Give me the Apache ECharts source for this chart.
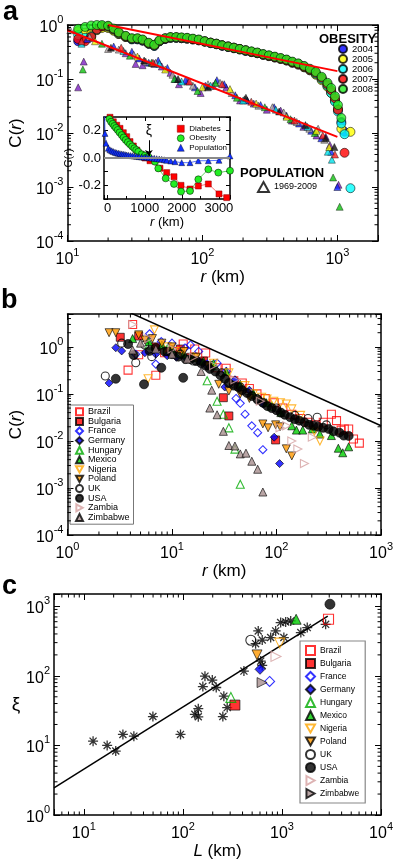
<!DOCTYPE html>
<html><head><meta charset="utf-8">
<script src="https://cdn.jsdelivr.net/npm/echarts@6/dist/echarts.min.js"></script>
<style>html,body{margin:0;padding:0;background:#fff}#c{width:396px;height:862px}</style>
</head><body><div id="c"></div>
<script>
// ---------------- Panel a : obesity (years) ----------------
const obesityYears = ['2004','2005','2006','2007','2008'];
const obesityR = [12,13.5,15,16.5,18,20,22,24,27,30,33,36,40,44,48,53,58,64,70,77,85,94,104,115,127,140,155,171,189,209,231,255,282,311,344,380,420,464,513,567,626,692,765,845,900,960,1010,1070,1130,1190,1250];
const obesity2004 = [0.5,0.55,0.7,0.85,0.92,0.9,0.8,0.68,0.6,0.54,0.54,0.51,0.45,0.41,0.5,0.55,0.58,0.58,0.57,0.56,0.54,0.52,0.49,0.46,0.44,0.41,0.39,0.37,0.35,0.33,0.315,0.3,0.28,0.265,0.25,0.235,0.22,0.2,0.185,0.165,0.145,0.125,0.1,0.075,0.058,0.04,0.027,0.016,0.0105,null,null];
const obesity2005 = [0.77,0.72,0.68,0.8,0.88,0.88,0.78,0.68,0.6,0.55,0.55,0.52,0.45,0.42,0.5,0.56,0.58,0.58,0.57,0.56,0.54,0.52,0.49,0.47,0.44,0.42,0.395,0.375,0.355,0.335,0.315,0.3,0.28,0.265,0.25,0.235,0.22,0.2,0.185,0.165,0.145,0.12,0.095,0.072,0.055,0.04,0.028,0.012,null,null,0.0105];
const obesity2006 = [0.65,0.58,0.62,0.82,0.95,0.93,0.82,0.7,0.61,0.55,0.55,0.52,0.45,0.41,0.5,0.56,0.58,0.58,0.57,0.56,0.55,0.53,0.5,0.47,0.45,0.42,0.4,0.38,0.36,0.34,0.32,0.305,0.285,0.27,0.255,0.24,0.225,0.205,0.19,0.17,0.15,0.125,0.1,0.075,0.055,0.038,0.025,0.015,0.0095,null,0.00095];
const obesity2007 = [0.55,0.5,0.6,0.83,0.95,0.95,0.84,0.72,0.62,0.56,0.56,0.53,0.46,0.42,0.51,0.56,0.59,0.59,0.58,0.57,0.55,0.53,0.5,0.47,0.45,0.42,0.4,0.38,0.36,0.34,0.32,0.305,0.285,0.27,0.255,0.24,0.225,0.205,0.19,0.17,0.15,0.13,0.105,0.08,0.062,0.044,0.027,null,0.0043,null,null];
const obesity2008 = [0.85,0.92,0.98,1.0,1.0,0.97,0.86,0.73,0.63,0.57,0.57,0.54,0.47,0.43,0.52,0.57,0.6,0.6,0.59,0.58,0.56,0.54,0.5,0.47,0.45,0.42,0.4,0.38,0.36,0.34,0.325,0.31,0.29,0.275,0.26,0.245,0.23,0.21,0.195,0.175,0.155,0.135,0.11,0.085,0.068,0.048,0.033,0.019,null,null,null];
const obesityValues = [obesity2004, obesity2005, obesity2006, obesity2007, obesity2008];

// ---------------- Panel a : population triangles (several years) ----------------
const popPurple = [[12,0.07],[13.2,0.21],[27,0.3],[32,0.19],[36,0.18],[44,0.19],[50,0.17],[58,0.13],[67,0.08],[78,0.09],[97,0.055],[120,0.075],[150,0.07],[190,0.04],[240,0.035],[300,0.027],[380,0.026],[460,0.017],[560,0.013],[700,0.009],[820,0.0085],[880,0.006],[1020,0.0011]];
const popBlue = [[14,0.55],[22,0.4],[30,0.32],[34,0.24],[40,0.2],[47,0.22],[55,0.16],[63,0.1],[75,0.095],[88,0.07],[105,0.075],[128,0.095],[145,0.08],[175,0.05],[215,0.04],[270,0.033],[340,0.03],[420,0.021],[520,0.015],[640,0.011],[760,0.008],[900,0.0045],[1000,0.001]];
const popGray = [[10.5,0.8],[14.6,0.6],[20,0.36],[24,0.35],[31,0.28],[38,0.21],[45,0.2],[60,0.12],[85,0.075],[110,0.08],[135,0.085],[165,0.055],[205,0.042],[260,0.032],[330,0.03],[400,0.024],[500,0.016],[620,0.012],[720,0.012],[800,0.0075]];
const popGreen = [[13,0.15],[18,0.45],[29,0.27],[42,0.2],[62,0.1],[92,0.06],[125,0.085],[180,0.045],[290,0.03],[450,0.018],[680,0.01],[930,0.0015],[1040,0.00043]];
const popCyan = [[12.7,0.45],[26,0.33],[48,0.19],[70,0.09],[115,0.075],[200,0.04],[350,0.027],[600,0.013],[850,0.0045],[910,0.0032]];
const popYellow = [[16,0.5],[33,0.26],[53,0.15],[100,0.07],[160,0.065],[250,0.035],[420,0.02],[700,0.011],[870,0.0055]];
const popRed = [[12.7,0.5],[25,0.38],[43,0.2],[80,0.09],[140,0.08],[230,0.038],[480,0.017],[780,0.009],[960,0.004]];
const popBlack = [[21,0.38],[37,0.22],[66,0.1],[110,0.07],[210,0.045],[370,0.025],[580,0.014],[820,0.008],[950,0.0055]];
const populationGroups = [popPurple, popBlue, popGray, popGreen, popCyan, popYellow, popRed, popBlack];

// power-law fits (red lines)
const fitObesity = [[20,1.0],[1000,0.14]];
const fitPopulation = [[10,0.8],[1000,0.0085]];

// ---------------- Panel a inset ----------------
const insetDiabetes = [[20,0.33],[62,0.298],[151,0.265],[243,0.24],[332,0.217],[421,0.185],[513,0.156],[602,0.12],[691,0.088],[783,0.058],[899,0.027],[1006,0.0],[1141,-0.02],[1411,-0.075],[1592,-0.107],[1789,-0.137],[1978,-0.2],[2221,-0.227],[2445,-0.205],[2715,-0.19],[3003,-0.263],[3211,-0.29]];
const insetObesity = [[0,0.31],[45,0.285],[89,0.265],[135,0.25],[178,0.234],[225,0.22],[270,0.205],[320,0.187],[378,0.168],[430,0.15],[486,0.132],[545,0.116],[602,0.1],[660,0.085],[718,0.071],[770,0.058],[826,0.046],[917,0.027],[1006,0.018],[1096,0.01],[1276,-0.027],[1365,-0.076],[1565,-0.149],[1789,-0.19],[1978,-0.246],[2221,-0.241],[2445,-0.156],[2715,-0.083],[2984,-0.107],[3300,-0.093]];
const insetPopulation = [[-95,0.5],[-73,0.18],[-46,0.108],[16,0.071],[60,0.06],[108,0.053],[150,0.047],[197,0.042],[240,0.038],[286,0.035],[330,0.032],[378,0.03],[420,0.027],[467,0.025],[510,0.022],[556,0.02],[610,0.018],[664,0.017],[720,0.014],[783,0.012],[850,0.01],[917,0.007],[985,0.006],[1052,0.005],[1120,0.002],[1187,0],[1255,-0.002],[1322,-0.005],[1390,-0.007],[1457,-0.01],[1525,-0.013],[1592,-0.017],[1700,-0.022],[1816,-0.027],[1997,-0.034],[2221,-0.034],[2445,-0.02],[2715,-0.02],[3003,-0.017],[3300,0.015]];
const xiArrow = [[1110,0.13],[1110,0.015]];

// ---------------- Panel b : C(r) by country ----------------
const countries = ['Brazil','Bulgaria','France','Germany','Hungary','Mexico','Nigeria','Poland','UK','USA','Zambia','Zimbabwe'];
const bBrazil = [[3.8,0.32],[4.2,3.0],[4.8,0.68],[7,0.25],[8.5,0.75],[10,0.8],[12.8,1.15],[16.5,0.9],[21,0.74],[27,0.36],[33,0.35],[39,0.19],[47,0.17],[55,0.13],[65,0.1],[78,0.08],[95,0.065],[115,0.05],[140,0.037],[170,0.03],[200,0.025],[240,0.022],[280,0.025],[335,0.037],[375,0.027],[415,0.017],[445,0.018],[490,0.018],[545,0.011],[620,0.009]];
const bBulgaria = [[3.2,1.6],[4.8,1.7],[7,1.0],[9,0.8],[12,0.9],[15,0.6],[20,0.5],[31,0.083],[35,0.034],[98,0.0105]];
const bFrance = [[4.5,0.7],[6.1,1.9],[7,0.43],[7.9,1.3],[10,1.2],[13.3,0.95],[15,1.1],[18,0.8],[21.7,0.43],[27,0.45],[33,0.3],[41,0.08],[45,0.063],[50,0.037],[58,0.021],[66,0.015],[74,0.0065]];
const bGermany = [[2.5,0.17],[2.9,0.96],[3.3,0.82],[5.5,0.75],[7,0.7],[9,0.65],[11,0.6],[14,0.55],[18,0.5],[24,0.38],[32,0.14],[40,0.2],[55,0.12],[75,0.06],[95,0.012],[107,0.0033]];
const bHungary = [[6,1.1],[9,0.9],[12,0.75],[16,0.6],[21.7,0.19],[24,0.4],[27,0.07],[31,0.037],[35,0.019],[40,0.0067],[45,0.0012],[60,0.1],[90,0.055]];
const bMexico = [[4.2,1.5],[6,1.3],[8,1.1],[10,0.9],[13,0.7],[16,0.6],[20,0.5],[25,0.45],[33,0.3],[45,0.16],[60,0.1],[80,0.065],[110,0.04],[140,0.021],[155,0.017],[178,0.017],[220,0.018],[260,0.014],[335,0.013],[390,0.007],[430,0.0056],[490,0.0075]];
const bNigeria = [[5.9,0.21],[6.8,2.3],[9,1.0],[12,0.8],[17,0.6],[25,0.45],[35,0.28],[50,0.15],[60,0.1],[72,0.085],[81,0.078],[94,0.07],[109,0.065],[124,0.061],[140,0.048],[170,0.035],[230,0.016],[260,0.01]];
const bPoland = [[2.5,2.0],[2.9,2.0],[4.8,1.8],[5.5,1.4],[6.5,1.5],[8,1.2],[10,1.0],[13,0.8],[17,0.6],[22,0.4],[28,0.16],[35,0.115],[45,0.1],[55,0.08],[74,0.023],[83,0.019],[98,0.022],[108,0.02],[124,0.0068],[140,0.0048]];
const bUK = [[2.3,0.24],[3.3,1.2],[4.5,0.46],[5.5,1.1],[6.4,0.62],[9,0.8],[12,0.7],[16,0.5],[22,0.4],[30,0.28],[45,0.14],[65,0.08],[100,0.05],[150,0.035],[200,0.03],[245,0.032],[300,0.022]];
const bUSA = [[2.9,0.21],[3.8,1.15],[4.3,0.67],[5.4,0.16],[6.1,0.82],[7,0.95],[7.9,0.36],[8.5,0.8],[10,0.7],[11.5,0.62],[12.8,0.22],[13.5,0.55],[15,0.55],[17,0.5],[19,0.45],[21,0.4],[23,0.34],[26,0.3],[29,0.25],[32,0.21],[35,0.17],[39,0.15],[43,0.14],[47,0.12],[52,0.105],[58,0.09],[66,0.075],[74,0.065],[82,0.055],[90,0.05],[100,0.045],[110,0.04],[120,0.036],[135,0.032],[150,0.029],[165,0.027],[185,0.025],[205,0.022],[225,0.021],[250,0.02],[280,0.019],[315,0.018],[350,0.016],[400,0.015],[440,0.013],[490,0.0128]];
const bZambia = [[4.2,3.0],[6,1.5],[10,0.9],[16,0.6],[25,0.4],[40,0.2],[70,0.07],[108,0.019],[125,0.021],[140,0.01],[160,0.0067],[185,0.0033],[220,0.012]];
const bZimbabwe = [[4.2,0.86],[5,1.2],[7,0.9],[10,0.7],[14,0.55],[19,0.3],[23,0.05],[24,0.12],[27,0.036],[31,0.016],[35,0.008],[40,0.0078],[45,0.0053],[51,0.0055],[58,0.0037],[66,0.0025],[74,0.00082]];
const panelBData = [bBrazil,bBulgaria,bFrance,bGermany,bHungary,bMexico,bNigeria,bPoland,bUK,bUSA,bZambia,bZimbabwe];
const panelBLine = [[4,5.3],[1000,0.021]];

// ---------------- Panel c : xi vs L ----------------
const cAsterisk = [[12.4,11.5],[17.2,10],[21,8.3],[24.8,14.4],[32,13.6],[49.8,26],[94.6,14.4],[132,28],[143,25.8],[143,33.7],[253,26],[280,35],[159,70],[167,99],[198,87],[217,68],[259,51],[413,117],[542,290],[576,442],[632,327],[769,355],[864,442],[970,582],[1090,595],[1225,615],[1045,355],[1550,418],[1800,494],[2760,550],[610,163],[632,141]];
const cCountries = [[2950,650],[335,38],[750,83],[600,124],[305,49],[1390,650],[950,295],[560,200],[485,325],[3050,1070],[870,190],[630,80]];
const panelCLine = [[5,2.45],[2900,720]];

// ---------------- styles ----------------
const FF = '"Liberation Sans", Arial, Helvetica, sans-serif';
const obesityColors = ['#0000ff','#ffff00','#00ffff','#ff0000','#22ee22'];
const popColors = ['#7d1fc0','#1020ff','#b0a4a4','#10c010','#00e0e8','#f0f000','#ff2020','#111111'];
const TRI_DOWN = 'path://M0,0L10,0L5,9Z';
const TRI_RIGHT = 'path://M0,0L9,5L0,10Z';
const ASTER = 'path://M-1.3,-10L1.3,-10L1.3,10L-1.3,10Z M-10,-1.3L10,-1.3L10,1.3L-10,1.3Z M-7.99,-6.15L-6.15,-7.99L7.99,6.15L6.15,7.99Z M-6.15,7.99L-7.99,6.15L6.15,-7.99L7.99,-6.15Z';
const countryStyle = [
  {symbol:'rect', color:'#ff0000', hollow:true},
  {symbol:'rect', color:'#ff0000', hollow:false},
  {symbol:'diamond', color:'#0000ff', hollow:true},
  {symbol:'diamond', color:'#0000ff', hollow:false},
  {symbol:'triangle', color:'#00aa00', hollow:true},
  {symbol:'triangle', color:'#00cc00', hollow:false},
  {symbol:TRI_DOWN, color:'#ffa500', hollow:true},
  {symbol:TRI_DOWN, color:'#ff9900', hollow:false},
  {symbol:'circle', color:'#000000', hollow:true},
  {symbol:'circle', color:'#000000', hollow:false},
  {symbol:TRI_RIGHT, color:'#d4a0a0', hollow:true},
  {symbol:'triangle', color:'#a88e8e', hollow:false}
];
function mstyle(st){
  return st.hollow ? {color:'rgba(255,255,255,0)', borderColor:st.color, borderWidth:1.1}
                   : {color:st.color, borderColor:'#000', borderWidth:0.8};
}

function powLabel(v){
  const l = Math.log10(v), e = Math.round(l);
  if (Math.abs(l - e) > 1e-6) return '';
  return '{b|10}{s|' + e + '}';
}
const powRich = {
  b:{fontSize:16, fontFamily:FF, color:'#000', lineHeight:21, verticalAlign:'bottom'},
  s:{fontSize:11, fontFamily:FF, color:'#000', lineHeight:12, verticalAlign:'top'}
};
function nameStyle(fs){
  return {fontSize:fs, fontFamily:FF, color:'#000', rich:{i:{fontStyle:'italic', fontSize:fs, fontFamily:FF, color:'#000'}}};
}
const axLine = {show:true, onZero:false, lineStyle:{color:'#000', width:1.5}};
const tickIn = {show:true, inside:true, length:6, lineStyle:{color:'#000', width:1}};
function ax(o){ return Object.assign({splitLine:{show:false}, axisLine:axLine, axisTick:tickIn}, o); }
function logLab(margin){ return {formatter:powLabel, rich:powRich, margin:margin, showMinLabel:true, showMaxLabel:true}; }

function minorVals(min, max){
  const out = [];
  for (let d = Math.floor(Math.log10(min)); d <= Math.ceil(Math.log10(max)); d++) {
    for (let k = 2; k <= 9; k++) { const v = k * Math.pow(10, d); if (v > min * 1.0001 && v < max * 0.9999) out.push(v); }
  }
  return out;
}
function minorSeries(xi, yi, dim, vals, ref){
  return {
    type:'custom', xAxisIndex:xi, yAxisIndex:yi, silent:true, z:6,
    data: vals.map(v => dim === 'x' ? [v, ref] : [ref, v]),
    renderItem: function(params, api){
      const cs = params.coordSys; const p = api.coord([api.value(0), api.value(1)]); const L = 3.5;
      const st = {stroke:'#000', lineWidth:1};
      if (dim === 'x') return {type:'group', children:[
        {type:'line', shape:{x1:p[0], y1:cs.y+cs.height, x2:p[0], y2:cs.y+cs.height-L}, style:st},
        {type:'line', shape:{x1:p[0], y1:cs.y, x2:p[0], y2:cs.y+L}, style:st}]};
      return {type:'group', children:[
        {type:'line', shape:{x1:cs.x, y1:p[1], x2:cs.x+L, y2:p[1]}, style:st},
        {type:'line', shape:{x1:cs.x+cs.width, y1:p[1], x2:cs.x+cs.width-L, y2:p[1]}, style:st}]};
    }
  };
}
function pairs(xs, ys){ return xs.map((x, i) => [x, ys[i]]).filter(p => p[1] != null); }

const series = [];
// panel a
obesityYears.forEach((y, i) => series.push({type:'scatter', name:y, xAxisIndex:0, yAxisIndex:0, symbol:'circle', symbolSize:9,
  itemStyle:{color:obesityColors[i], borderColor:'#000', borderWidth:0.7}, data:pairs(obesityR, obesityValues[i])}));
populationGroups.forEach((g, i) => series.push({type:'scatter', name:'pop'+i, xAxisIndex:0, yAxisIndex:0, symbol:'triangle', symbolSize:7,
  itemStyle:{color:popColors[i], borderColor:'#000', borderWidth:0.5}, data:g}));
series.push({type:'scatter', name:'1969-2009', xAxisIndex:0, yAxisIndex:0, symbol:'triangle', symbolSize:10,
  itemStyle:{color:'rgba(255,255,255,0)', borderColor:'#000', borderWidth:1}, data:[]});
[fitObesity, fitPopulation].forEach(d => series.push({type:'line', xAxisIndex:0, yAxisIndex:0, data:d, showSymbol:false, silent:true, z:4,
  lineStyle:{color:'#ff0000', width:2}}));
series.push(minorSeries(0, 0, 'x', minorVals(10, 2000), 0.01));
series.push(minorSeries(0, 0, 'y', minorVals(1e-4, 1), 100));
// inset
series.push({type:'line', name:'Diabetes', xAxisIndex:2, yAxisIndex:2, data:insetDiabetes, symbol:'rect', symbolSize:6, z:3,
  itemStyle:{color:'#ff0000', borderColor:'#800', borderWidth:0.5}, lineStyle:{color:'#ff5050', width:0.8},
  markLine:{silent:true, symbol:['none','none'], label:{show:false}, lineStyle:{color:'#8a8a8a', width:2, type:'solid'}, data:[{yAxis:0}]}});
series.push({type:'line', name:'Obesity', xAxisIndex:2, yAxisIndex:2, data:insetObesity, symbol:'circle', symbolSize:7, z:3,
  itemStyle:{color:'#22ee22', borderColor:'#000', borderWidth:0.5}, lineStyle:{color:'#33cc33', width:0.8}});
series.push({type:'line', name:'Population', xAxisIndex:2, yAxisIndex:2, data:insetPopulation, symbol:'triangle', symbolSize:6, z:3,
  itemStyle:{color:'#1030ff', borderColor:'#000', borderWidth:0.4}, lineStyle:{color:'#3050ff', width:0.8},
  markLine:{silent:true, symbol:['none','arrow'], symbolSize:6, lineStyle:{color:'#000', width:1, type:'solid'},
    label:{show:true, position:'start', formatter:'ξ', fontSize:14, fontFamily:FF, color:'#000', distance:2},
    data:[[{coord:xiArrow[0]}, {coord:xiArrow[1]}]]}});
// panel b
countries.forEach((c, i) => {
  const st = countryStyle[i];
  series.push({type:'scatter', name:c, xAxisIndex:4, yAxisIndex:4, symbol:st.symbol, symbolSize: c === 'USA' ? 9 : 8,
    itemStyle:mstyle(st), data:panelBData[i]});
});
series.push({type:'line', xAxisIndex:4, yAxisIndex:4, data:panelBLine, showSymbol:false, silent:true, lineStyle:{color:'#000', width:1.5}});
series.push(minorSeries(4, 4, 'x', minorVals(1, 1000), 0.01));
series.push(minorSeries(4, 4, 'y', minorVals(1e-4, 5), 10));
// panel c
series.push({type:'line', xAxisIndex:6, yAxisIndex:6, data:panelCLine, showSymbol:false, silent:true, lineStyle:{color:'#000', width:1.5}});
series.push({type:'scatter', name:'asterisk', xAxisIndex:6, yAxisIndex:6, symbol:ASTER, symbolSize:10, itemStyle:{color:'#000'}, data:cAsterisk});
const countriesC = countries.map(c => c + '|c');
countries.forEach((c, i) => {
  const st = i === 11 ? {symbol:TRI_RIGHT, color:'#a88e8e', hollow:false} : countryStyle[i];
  series.push({type:'scatter', name:countriesC[i], xAxisIndex:6, yAxisIndex:6, symbol:st.symbol, symbolSize:10,
    itemStyle:mstyle(st), data:[cCountries[i]], z:3});
});
series.push(minorSeries(6, 6, 'x', minorVals(5, 10000), 10));
series.push(minorSeries(6, 6, 'y', minorVals(1, 1500), 100));

const insetX = {fontSize:13, fontFamily:FF, color:'#000', margin:3, showMinLabel:false, showMaxLabel:false,
  formatter:function(v){ return String(Math.round(v)); }};
const option = {
  animation:false,
  backgroundColor:'#fff',
  title:[
    {text:'a', left:3, top:-1, padding:0, textStyle:{fontSize:27, fontWeight:'bold', fontFamily:FF, color:'#000'}},
    {text:'b', left:1, top:287, padding:0, textStyle:{fontSize:27, fontWeight:'bold', fontFamily:FF, color:'#000'}},
    {text:'c', left:2, top:573, padding:0, textStyle:{fontSize:27, fontWeight:'bold', fontFamily:FF, color:'#000'}},
    {text:'OBESITY', left:319, top:33, padding:0, textStyle:{fontSize:13, fontWeight:'bold', fontFamily:FF, color:'#000'}},
    {text:'POPULATION', left:240, top:167, padding:0, textStyle:{fontSize:13, fontWeight:'bold', fontFamily:FF, color:'#000'}}
  ],
  legend:[
    {data:obesityYears, left:338, top:44, orient:'vertical', itemWidth:8, itemHeight:8, itemGap:0, padding:0, selectedMode:false,
     textStyle:{fontSize:9.5, fontFamily:FF, color:'#000', lineHeight:8.7}},
    {data:['1969-2009'], left:257, top:181, itemWidth:11, itemHeight:10, padding:0, selectedMode:false,
     textStyle:{fontSize:9, fontFamily:FF, color:'#000'}},
    {data:[{name:'Diabetes', icon:'rect', itemStyle:{color:'#ff0000', borderColor:'#800', borderWidth:0.5}},
           {name:'Obesity', icon:'circle', itemStyle:{color:'#22ee22', borderColor:'#000', borderWidth:0.5}},
           {name:'Population', icon:'triangle', itemStyle:{color:'#1030ff', borderColor:'#000', borderWidth:0.4}}], left:177, top:124,
     orient:'vertical', itemWidth:7, itemHeight:7, itemGap:0, padding:0, selectedMode:false,
     textStyle:{fontSize:8, fontFamily:FF, color:'#000', lineHeight:9.5}},
    {data:countries, left:70, top:405, orient:'vertical', itemWidth:7, itemHeight:7, itemGap:0, padding:[2,4,2,5],
     borderColor:'#777', borderWidth:1, selectedMode:false, textStyle:{fontSize:9, fontFamily:FF, color:'#000', lineHeight:9.6}},
    {data:countriesC, left:300, top:641, orient:'vertical', itemWidth:9, itemHeight:9, itemGap:0, padding:[3,6,3,5],
     borderColor:'#888', borderWidth:1.2, selectedMode:false, formatter:n => n.split('|')[0],
     textStyle:{fontSize:8.5, fontFamily:FF, color:'#000', lineHeight:13}}
  ],
  grid:[
    {left:57, top:25, width:321, height:216},
    {left:104, top:117, width:126, height:82, show:true, backgroundColor:'#fff', borderWidth:0},
    {left:54, top:314, width:328, height:221},
    {left:54, top:594, width:328, height:221}
  ],
  xAxis:[
    ax({type:'log', gridIndex:0, min:10, max:2000, position:'bottom', axisLabel:logLab(6),
        name:'{i|r} (km)', nameLocation:'middle', nameGap:22, nameTextStyle:nameStyle(17)}),
    ax({type:'log', gridIndex:0, min:10, max:2000, position:'top', axisLabel:{show:false}}),
    ax({type:'value', gridIndex:1, min:-100, max:3300, splitNumber:4, position:'bottom', axisLabel:insetX,
        axisTick:{show:true, inside:true, length:4, lineStyle:{color:'#000'}}, minorTick:{show:true, splitNumber:2, length:3, lineStyle:{color:'#000'}},
        name:'{i|r} (km)', nameLocation:'middle', nameGap:16, nameTextStyle:nameStyle(13)}),
    ax({type:'value', gridIndex:1, min:-100, max:3300, splitNumber:4, position:'top', axisLabel:{show:false},
        axisTick:{show:true, inside:true, length:4, lineStyle:{color:'#000'}}, minorTick:{show:true, splitNumber:2, length:3, lineStyle:{color:'#000'}}}),
    ax({type:'log', gridIndex:2, min:1, max:1000, position:'bottom', axisLabel:logLab(6),
        name:'{i|r} (km)', nameLocation:'middle', nameGap:22, nameTextStyle:nameStyle(17)}),
    ax({type:'log', gridIndex:2, min:1, max:1000, position:'top', axisLabel:{show:false}}),
    ax({type:'log', gridIndex:3, min:5, max:10000, position:'bottom', axisLabel:logLab(6),
        name:'{i|L} (km)', nameLocation:'middle', nameGap:22, nameTextStyle:nameStyle(17)}),
    ax({type:'log', gridIndex:3, min:5, max:10000, position:'top', axisLabel:{show:false}})
  ],
  yAxis:[
    ax({type:'log', gridIndex:0, min:1e-4, max:1, position:'left', axisLabel:logLab(4),
        name:'C({i|r})', nameLocation:'middle', nameRotate:90, nameGap:36, nameTextStyle:nameStyle(17)}),
    ax({type:'log', gridIndex:0, min:1e-4, max:1, position:'right', axisLabel:{show:false}}),
    ax({type:'value', gridIndex:1, min:-0.3, max:0.3, interval:0.1, position:'left',
        axisTick:{show:true, inside:true, length:4, lineStyle:{color:'#000'}},
        axisLabel:{fontSize:13, fontFamily:FF, color:'#000', margin:3, formatter:function(v){
          const k = Math.round(v*10); if (Math.abs(v*10-k) > 1e-6 || k % 2 !== 0) return ''; return (k/10).toFixed(1); }},
        name:'C({i|r})', nameLocation:'middle', nameRotate:90, nameGap:24, nameTextStyle:nameStyle(11)}),
    ax({type:'value', gridIndex:1, min:-0.3, max:0.3, interval:0.1, position:'right', axisLabel:{show:false},
        axisTick:{show:true, inside:true, length:4, lineStyle:{color:'#000'}}}),
    ax({type:'log', gridIndex:2, min:1e-4, max:5, position:'left', axisLabel:logLab(4),
        name:'C({i|r})', nameLocation:'middle', nameRotate:90, nameGap:36, nameTextStyle:nameStyle(17)}),
    ax({type:'log', gridIndex:2, min:1e-4, max:5, position:'right', axisLabel:{show:false}}),
    ax({type:'log', gridIndex:3, min:1, max:1500, position:'left', axisLabel:logLab(4),
        name:'ξ', nameLocation:'middle', nameRotate:0, nameGap:30, nameTextStyle:{fontSize:19, fontFamily:FF, color:'#000'}}),
    ax({type:'log', gridIndex:3, min:1, max:1500, position:'right', axisLabel:{show:false}})
  ],
  series:series
};
const chart = echarts.init(document.getElementById('c'), null, {renderer:'canvas', width:396, height:862});
chart.setOption(option);
</script>
</body></html>
